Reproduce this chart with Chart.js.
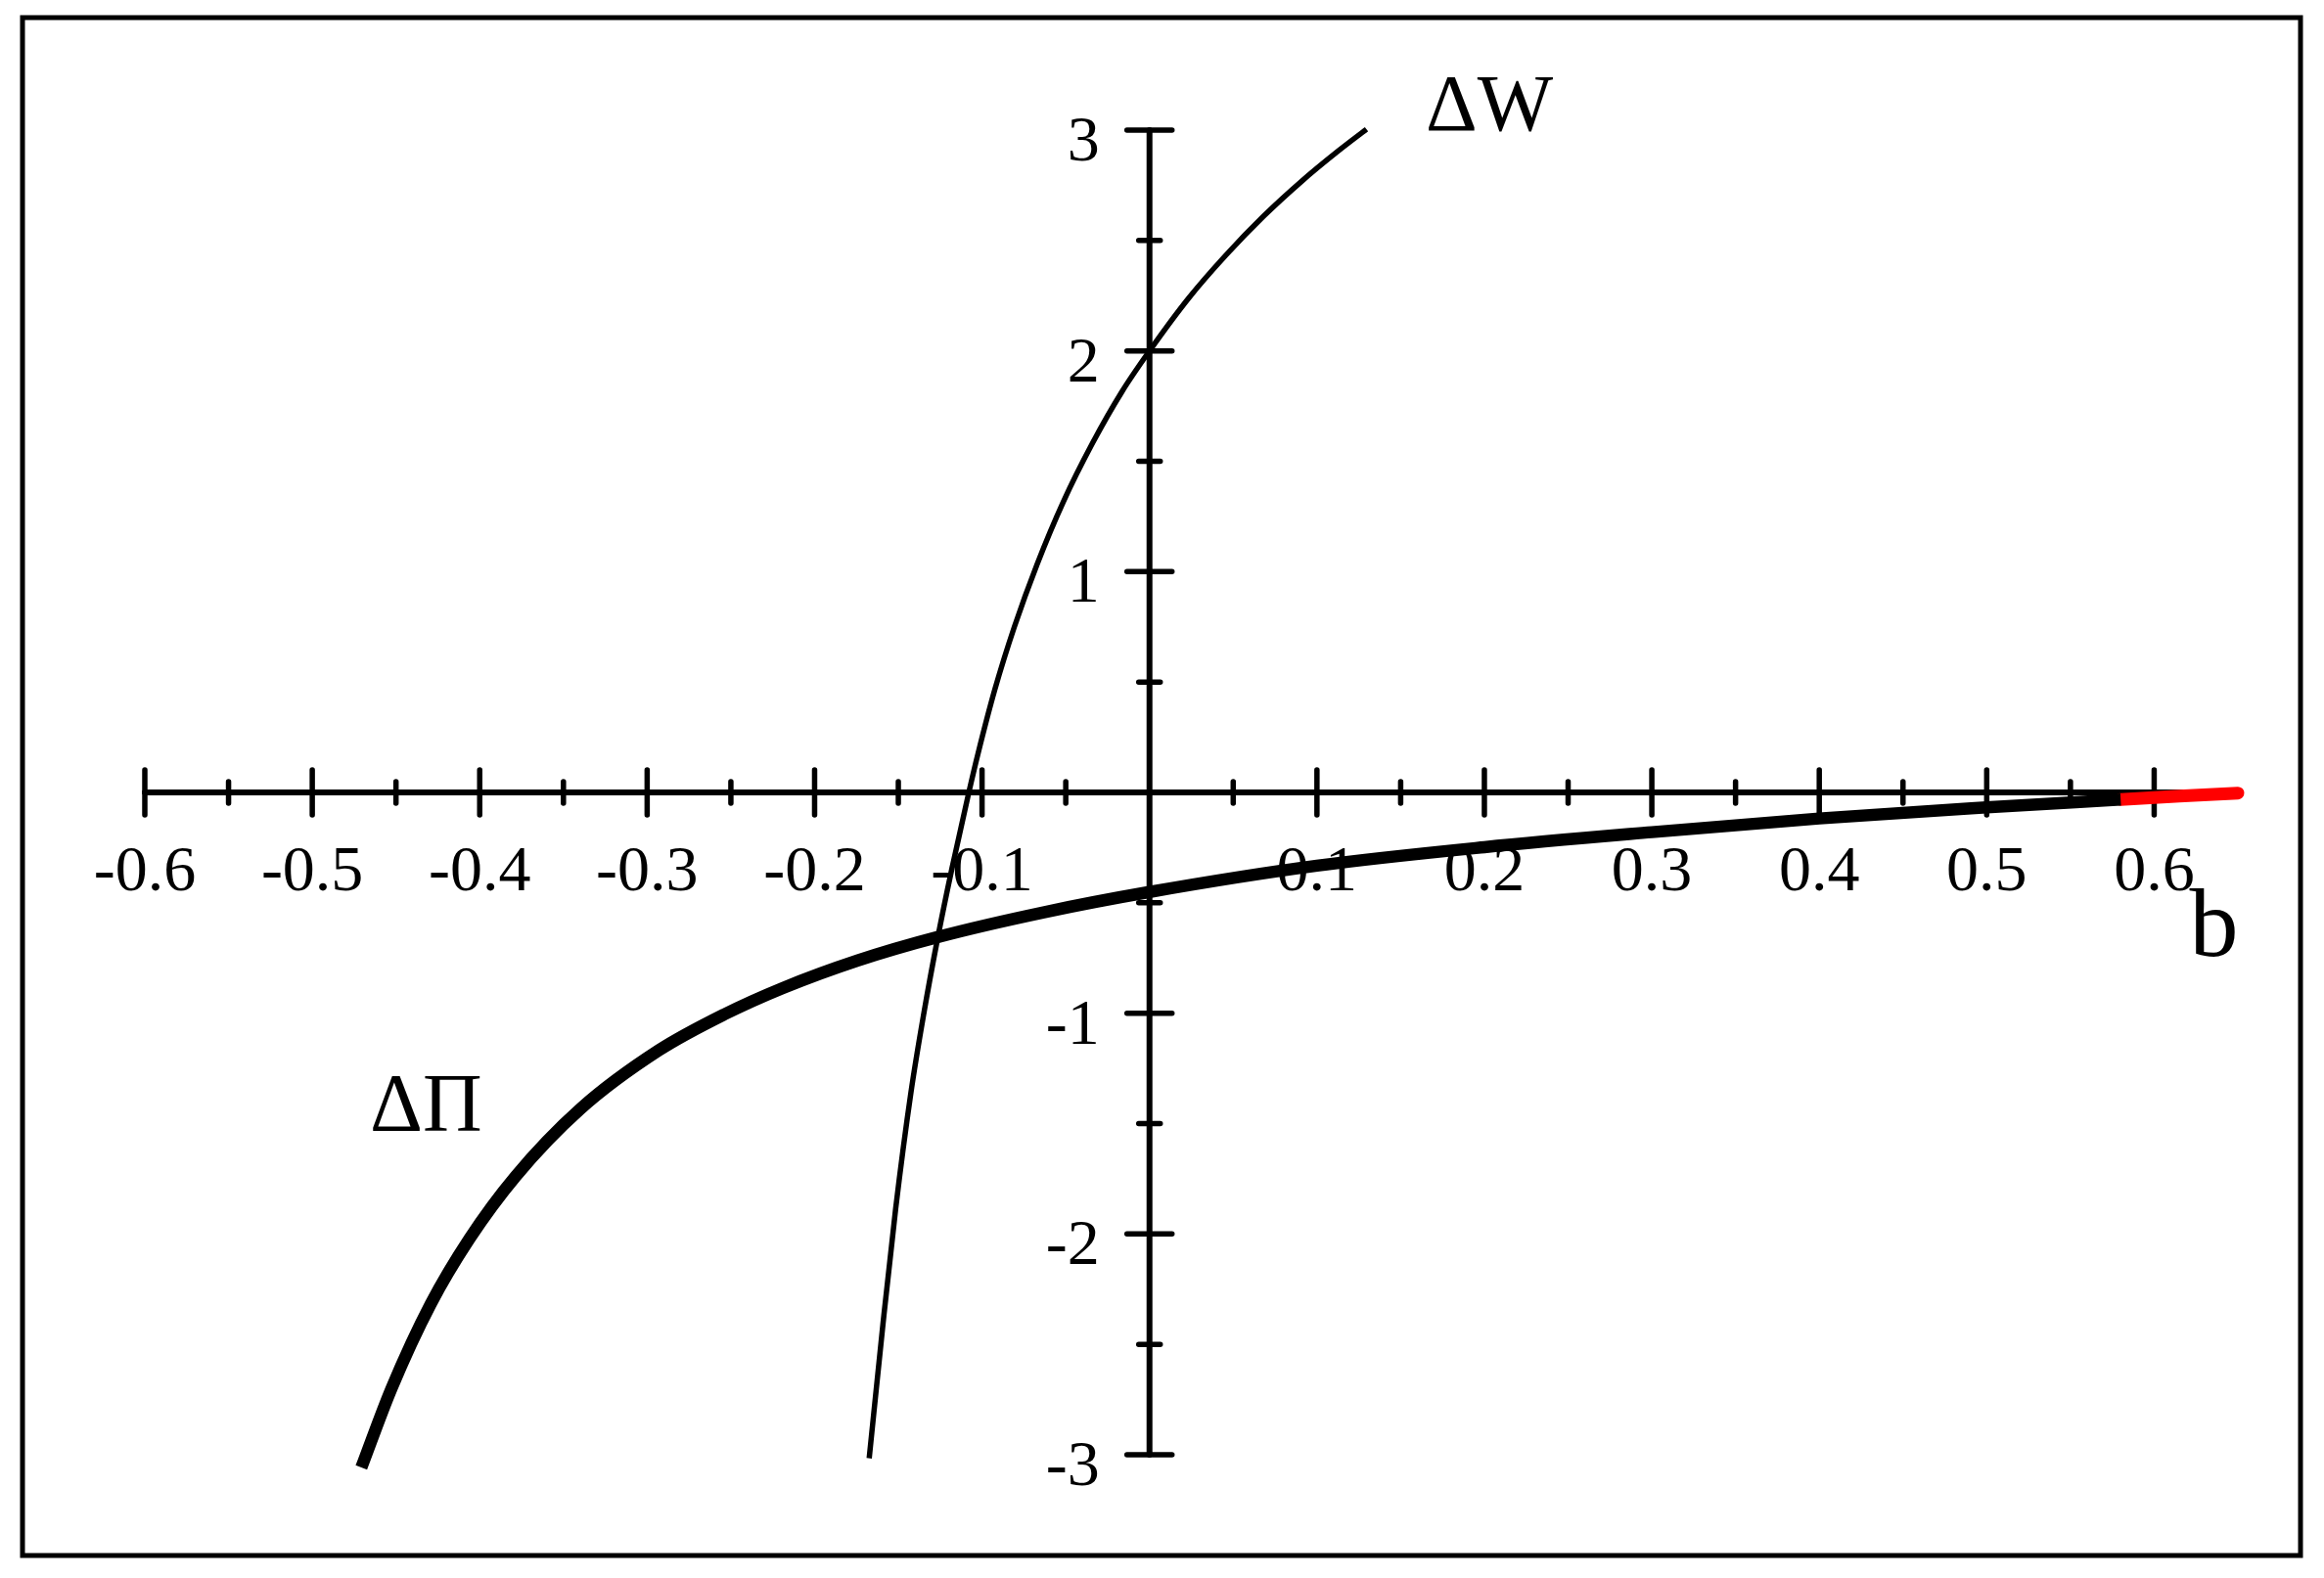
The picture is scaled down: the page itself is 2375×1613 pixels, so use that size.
<!DOCTYPE html>
<html>
<head>
<meta charset="utf-8">
<script src="https://cdn.jsdelivr.net/npm/chart.js@4.4.1/dist/chart.umd.min.js"></script>
<style>
  html, body { margin: 0; padding: 0; background: #fff; }
  canvas { display: block; }
</style>
</head>
<body>
<canvas id="chart" width="2375" height="1613"></canvas>
<script>
// ΔW curve (thin)
const wB = [-0.1674, -0.1592, -0.1516, -0.1425, -0.135, -0.1263, -0.118, -0.1079, -0.1023, -0.0924,
  -0.0807, -0.0671, -0.0515, -0.0339, -0.0164, 0.0, 0.0234, 0.0458, 0.0681, 0.0905, 0.1128, 0.1296];
const wVal = [-3.016, -2.41, -1.886, -1.361, -1.011, -0.652, -0.345, 0.0, 0.179, 0.465,
  0.75, 1.034, 1.316, 1.584, 1.816, 2.0, 2.239, 2.435, 2.61, 2.766, 2.906, 3.004];

// ΔΠ curve (thick)
const piB = [-0.4707, -0.4527, -0.4294, -0.406, -0.3787, -0.3398, -0.293, -0.2541, -0.219,
  -0.1742, -0.1255, -0.0632, 0.0, 0.1, 0.2, 0.3, 0.4, 0.5, 0.58];
const piVal = [-3.058, -2.7, -2.319, -2.02, -1.74, -1.433, -1.168, -1.006, -0.886,
  -0.761, -0.653, -0.543, -0.451, -0.332, -0.248, -0.18, -0.118, -0.068, -0.032];

// red end piece of ΔΠ
const redB = [0.58, 0.615, 0.65];
const redVal = [-0.032, -0.017, -0.003];

// axes
const xMajorTicks = [-0.6, -0.5, -0.4, -0.3, -0.2, -0.1, 0.1, 0.2, 0.3, 0.4, 0.5, 0.6];
const xTickLabels = ["-0.6", "-0.5", "-0.4", "-0.3", "-0.2", "-0.1", "0.1", "0.2", "0.3", "0.4", "0.5", "0.6"];
const xMinorTicks = [-0.55, -0.45, -0.35, -0.25, -0.15, -0.05, 0.05, 0.15, 0.25, 0.35, 0.45, 0.55];
const yMajorTicks = [-3, -2, -1, 1, 2, 3];
const yTickLabels = ["-3", "-2", "-1", "1", "2", "3"];
const yMinorTicks = [-2.5, -1.5, -0.5, 0.5, 1.5, 2.5];

const toPoints = (xs, ys) => xs.map((x, i) => ({ x: x, y: ys[i] }));

const SERIF = '"Liberation Serif", "Times New Roman", serif';

const crossAxes = {
  id: "crossAxes",
  beforeDraw(chart) {
    const ctx = chart.ctx;
    ctx.save();
    ctx.fillStyle = "#fff";
    ctx.fillRect(0, 0, chart.width, chart.height);
    ctx.strokeStyle = "#000";
    ctx.lineWidth = 5;
    ctx.strokeRect(23, 18, 2328, 1572);
    ctx.restore();
  },
  beforeDatasetsDraw(chart) {
    const { ctx, scales: { x, y } } = chart;
    const x0 = x.getPixelForValue(0);
    const y0 = y.getPixelForValue(0);
    ctx.save();
    ctx.strokeStyle = "#000";
    ctx.fillStyle = "#000";
    ctx.lineCap = "round";

    // axis lines
    ctx.lineWidth = 6;
    ctx.beginPath();
    ctx.moveTo(x.getPixelForValue(x.min), y0);
    ctx.lineTo(x.getPixelForValue(x.max), y0);
    ctx.moveTo(x0, y.getPixelForValue(y.min));
    ctx.lineTo(x0, y.getPixelForValue(y.max));
    ctx.stroke();

    // tick marks crossing the axes
    ctx.lineWidth = 5.5;
    ctx.beginPath();
    xMajorTicks.forEach((v) => {
      const px = x.getPixelForValue(v);
      ctx.moveTo(px, y0 - 23);
      ctx.lineTo(px, y0 + 23);
    });
    xMinorTicks.forEach((v) => {
      const px = x.getPixelForValue(v);
      ctx.moveTo(px, y0 - 11);
      ctx.lineTo(px, y0 + 11);
    });
    yMajorTicks.forEach((v) => {
      const py = y.getPixelForValue(v);
      ctx.moveTo(x0 - 23, py);
      ctx.lineTo(x0 + 23, py);
    });
    yMinorTicks.forEach((v) => {
      const py = y.getPixelForValue(v);
      ctx.moveTo(x0 - 11, py);
      ctx.lineTo(x0 + 11, py);
    });
    ctx.stroke();

    // tick labels
    ctx.font = "66px " + SERIF;
    ctx.textBaseline = "alphabetic";
    ctx.textAlign = "center";
    xMajorTicks.forEach((v, i) => {
      ctx.fillText(xTickLabels[i], x.getPixelForValue(v), y0 + 100);
    });
    ctx.textAlign = "right";
    yMajorTicks.forEach((v, i) => {
      ctx.fillText(yTickLabels[i], x0 - 51, y.getPixelForValue(v) + 31);
    });

    // curve names and axis name
    ctx.textAlign = "left";
    ctx.font = "82px " + SERIF;
    ctx.fillText("ΔW", x.getPixelForValue(0.165), y.getPixelForValue(3.0));
    ctx.font = "84px " + SERIF;
    ctx.fillText("ΔΠ", x.getPixelForValue(-0.4656), y.getPixelForValue(-1.533));
    ctx.font = "100px " + SERIF;
    ctx.fillText("b", x.getPixelForValue(0.621), y.getPixelForValue(-0.74));
    ctx.restore();
  },
};

function main() {
  const ctx = document.getElementById("chart").getContext("2d");
  const chart = new Chart(ctx, {
    type: "line",
    data: {
      datasets: [
        {
          label: "ΔW",
          data: toPoints(wB, wVal),
          borderColor: "#000",
          borderWidth: 5.5,
          pointRadius: 0,
          fill: false,
          cubicInterpolationMode: "monotone",
          clip: false,
        },
        {
          label: "ΔΠ",
          data: toPoints(piB, piVal),
          borderColor: "#000",
          borderWidth: 12.5,
          pointRadius: 0,
          fill: false,
          cubicInterpolationMode: "monotone",
          clip: false,
        },
        {
          label: "ΔΠ (end)",
          data: toPoints(redB, redVal),
          borderColor: "#ff0000",
          borderWidth: 13,
          borderCapStyle: "round",
          pointRadius: 0,
          fill: false,
          clip: false,
        },
      ],
    },
    options: {
      responsive: false,
      animation: false,
      devicePixelRatio: 1,
      elements: { line: { capBezierPoints: false } },
      layout: { padding: { left: 148, right: 88, top: 133, bottom: 126 } },
      plugins: { legend: { display: false }, tooltip: { enabled: false } },
      scales: {
        x: { type: "linear", min: -0.6, max: 0.65, display: false },
        y: { type: "linear", min: -3, max: 3, display: false },
      },
    },
    plugins: [crossAxes],
  });
}

if (document.fonts && document.fonts.load) {
  Promise.all([
    document.fonts.load('66px "Liberation Serif"'),
    document.fonts.load('84px "Liberation Serif"', "ΔΠW"),
  ]).then(main, main);
} else {
  main();
}
</script>
</body>
</html>
